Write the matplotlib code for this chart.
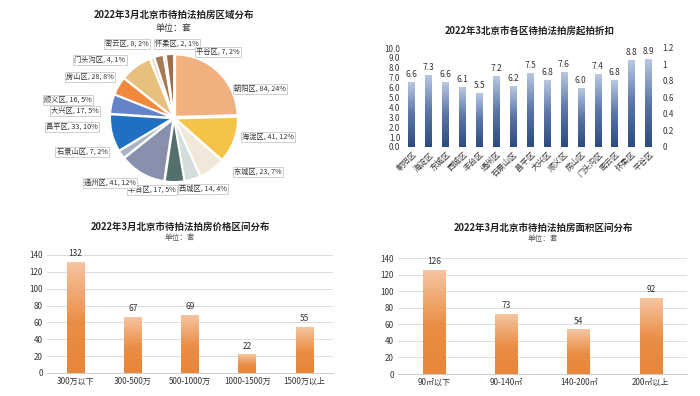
import numpy as np
import matplotlib
matplotlib.use('Agg')
from matplotlib import pyplot as plt
from matplotlib.colors import LinearSegmentedColormap

plt.rcParams['font.family'] = ['Noto Sans CJK SC', 'DejaVu Sans']

# pie: districts by count
pie_names = ['朝阳区', '海淀区', '东城区', '西城区', '丰台区', '通州区', '石景山区', '昌平区',
             '大兴区', '顺义区', '房山区', '门头沟区', '密云区', '怀柔区', '平谷区']
pie_counts = [84, 41, 23, 14, 17, 41, 7, 33, 17, 16, 28, 4, 8, 2, 7]
pie_pct = [24, 12, 7, 4, 5, 12, 2, 10, 5, 5, 8, 1, 2, 1, 2]
pie_colors = ['#F3B07F', '#F5C345', '#F2E8DA', '#D3DEDA', '#54706C', '#8890AE', '#A9B3C6', '#1F6FC2',
              '#6383CA', '#F0893B', '#E7C07E', '#EDE3D6', '#A97A58', '#D9C1A6', '#A06D47']
# label centres (pixels in the reference, relative to the pie)
pie_label_px = [(260, 89), (268, 137), (258, 172), (203, 189), (152, 190), (110, 183), (82, 152),
                (72, 127), (75, 111), (68, 100), (90, 77), (100, 60), (127, 44), (177, 44), (218, 52)]

# discount by district
disc_names = ['朝阳区', '海淀区', '东城区', '西城区', '丰台区', '通州区', '石景山区', '昌平区',
              '大兴区', '顺义区', '房山区', '门头沟区', '密云区', '怀柔区', '平谷区']
disc_vals = [6.6, 7.3, 6.6, 6.1, 5.5, 7.2, 6.2, 7.5, 6.8, 7.6, 6.0, 7.4, 6.8, 8.8, 8.9]

# price ranges
price_cats = ['300万以下', '300-500万', '500-1000万', '1000-1500万', '1500万以上']
price_vals = [132, 67, 69, 22, 55]

# area ranges
area_cats = ['90㎡以下', '90-140㎡', '140-200㎡', '200㎡以上']
area_vals = [126, 73, 54, 92]

orange = LinearSegmentedColormap.from_list('o', [(0, '#E8863A'), (0.45, '#EA8D44'), (1, '#F6C6A3')])
blue = LinearSegmentedColormap.from_list('b', [(0, '#2D4A7F'), (0.5, '#5B77A8'), (1, '#BCCBE4')])


def grad_bars(ax, x, h, w, cmap):
    bars = ax.bar(x, h, w, color='none', edgecolor='none', zorder=2)
    g = np.linspace(0, 1, 256).reshape(-1, 1)
    for b in bars:
        im = ax.imshow(g, extent=[b.get_x(), b.get_x() + b.get_width(), 0, b.get_height()],
                       origin='lower', cmap=cmap, aspect='auto', zorder=2)
        im.set_clip_path(b)
    return bars


fig = plt.figure(figsize=(7, 3.96), dpi=100)
W, H = 700, 396

# ---- pie ----
cx, cy, r = 174, 118, 62
axp = fig.add_axes([(cx - 2.2 * r) / W, 1 - (cy + 1.7 * r) / H, 4.4 * r / W, 3.4 * r / H])
axp.pie(pie_counts, colors=pie_colors, startangle=90, counterclock=False,
        explode=[0.03] * len(pie_counts), wedgeprops=dict(edgecolor='white', linewidth=1.2))
axp.set_xlim(-2.2, 2.2)
axp.set_ylim(-1.7, 1.7)
axp.set_aspect('auto')
axp.axis('off')
for n, c, p, (px, py) in zip(pie_names, pie_counts, pie_pct, pie_label_px):
    axp.text((px - cx) / r, (cy - py) / r, f'{n}, {c}, {p}%', fontsize=5.2, ha='center', va='center',
             color='#333333',
             bbox=dict(boxstyle='square,pad=0.2', fc='white', ec='#c8c8c8', lw=0.6))
fig.text(174 / W, 1 - 15 / H, '2022年3月北京市待拍法拍房区域分布', ha='center', va='center',
         fontsize=6.8, fontweight='bold', color='#222222')
fig.text(174 / W, 1 - 28 / H, '单位：套', ha='center', va='center', fontsize=6.5, color='#333333')

# ---- discount bars ----
axd = fig.add_axes([403 / W, 1 - 147 / H, 254 / W, 99 / H])
x = np.arange(len(disc_vals))
grad_bars(axd, x, disc_vals, 0.38, blue)
for xi, v in zip(x, disc_vals):
    axd.text(xi, v + 0.25, f'{v:.1f}', ha='center', va='bottom', fontsize=6, color='#333333')
axd.set_xlim(-0.5, len(disc_vals) - 0.5)
axd.set_ylim(0, 10)
axd.set_yticks(np.arange(0, 10.1, 1))
axd.set_yticklabels([f'{v:.1f}' for v in np.arange(0, 10.1, 1)])
axd.set_xticks(x)
axd.set_xticklabels(disc_names, rotation=45, ha='right', rotation_mode='anchor')
axd.tick_params(length=0, labelsize=5.8, colors='#333333', pad=2)
for s in axd.spines.values():
    s.set_visible(False)
axr = axd.twinx()
axr.set_ylim(0, 1.2)
axr.set_yticks(np.arange(0, 1.21, 0.2))
axr.set_yticklabels(['0', '0.2', '0.4', '0.6', '0.8', '1', '1.2'])
axr.tick_params(length=0, labelsize=5.8, colors='#333333', pad=4)
for s in axr.spines.values():
    s.set_visible(False)
fig.text(530 / W, 1 - 31 / H, '2022年3北京市各区待拍法拍房起拍折扣', ha='center', va='center',
         fontsize=6.8, fontweight='bold', color='#222222')


def range_chart(rect, cats, vals, title, tx, ty):
    ax = fig.add_axes(rect)
    xs = np.arange(len(vals))
    grad_bars(ax, xs, vals, 0.31, orange)
    for xi, v in zip(xs, vals):
        ax.text(xi, v + 4, str(v), ha='center', va='bottom', fontsize=6, color='#333333')
    ax.set_xlim(-0.5, len(vals) - 0.5)
    ax.set_ylim(0, 140)
    ax.set_yticks(range(0, 141, 20))
    ax.set_xticks(xs)
    ax.set_xticklabels(cats)
    ax.grid(axis='y', color='#dddddd', lw=0.7, zorder=0)
    ax.set_axisbelow(True)
    ax.tick_params(length=0, labelsize=5.8, colors='#333333', pad=3)
    for s in ['top', 'right', 'left']:
        ax.spines[s].set_visible(False)
    ax.spines['bottom'].set_color('#cccccc')
    ax.spines['bottom'].set_linewidth(0.7)
    fig.text(tx / W, 1 - ty / H, title, ha='center', va='center',
             fontsize=6.8, fontweight='bold', color='#222222')
    fig.text(tx / W, 1 - (ty + 11) / H, '单位：套', ha='center', va='center', fontsize=5.5, color='#555555')


range_chart([47 / W, 1 - 373 / H, 286 / W, 118 / H], price_cats, price_vals,
            '2022年3月北京市待拍法拍房价格区间分布', 180, 227)
range_chart([398 / W, 1 - 374 / H, 289 / W, 116 / H], area_cats, area_vals,
            '2022年3月北京市待拍法拍房面积区间分布', 543, 228)

fig.savefig('out.png', dpi=100)
